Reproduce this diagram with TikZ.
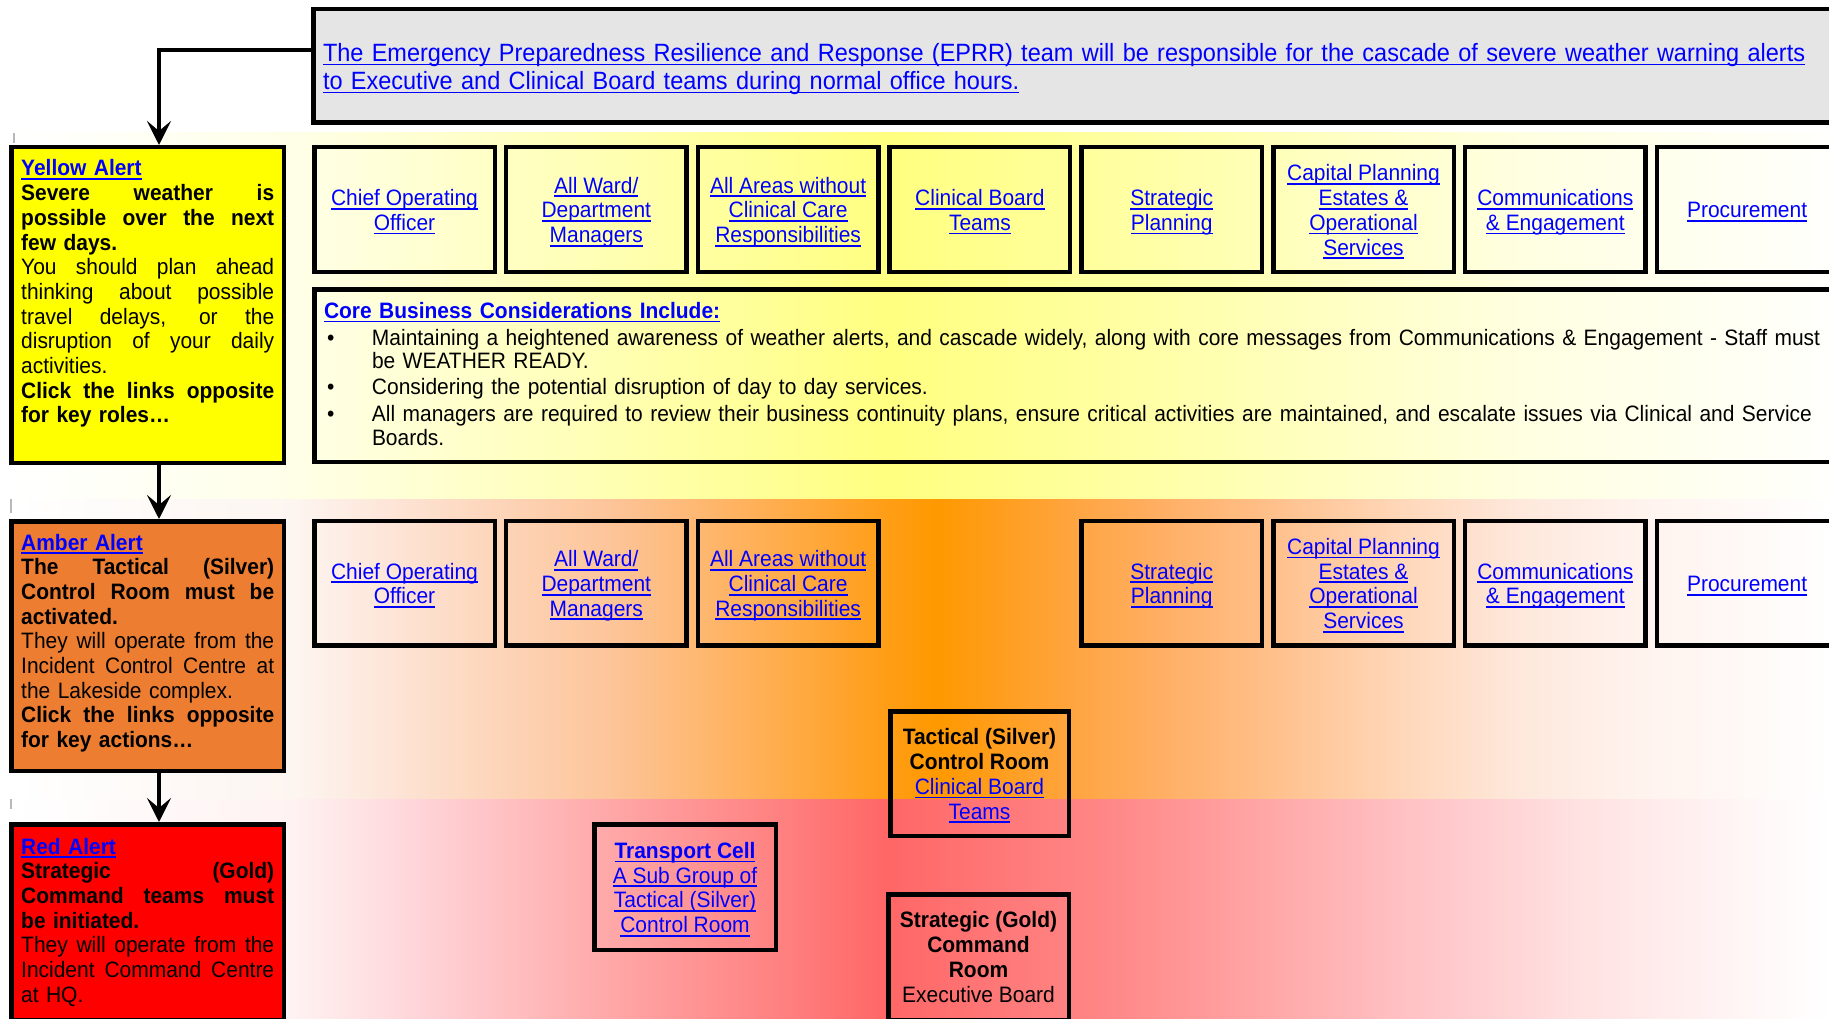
\documentclass[tikz,border=0pt]{standalone}
\usepackage{fontspec}
\setmainfont{Liberation Sans}[FakeStretch=0.94]
\usetikzlibrary{arrows.meta}
\definecolor{linkblue}{RGB}{0,0,255}
\definecolor{graybg}{RGB}{229,229,229}
\definecolor{yellowbox}{RGB}{255,255,0}
\definecolor{amberbox}{RGB}{237,125,49}
\definecolor{redbox}{RGB}{255,0,0}
% yellow band
\definecolor{yb0}{RGB}{255,255,255}
\definecolor{yb1}{RGB}{255,255,232}
\definecolor{yb2}{RGB}{255,255,180}
\definecolor{yb3}{RGB}{255,255,128}
\definecolor{yb4}{RGB}{255,255,170}
\definecolor{yb5}{RGB}{255,255,225}
\definecolor{yb6}{RGB}{255,255,252}
% amber band
\definecolor{ab0}{RGB}{255,255,255}
\definecolor{ab1}{RGB}{253,245,240}
\definecolor{ab2}{RGB}{253,228,214}
\definecolor{ab3}{RGB}{253,195,150}
\definecolor{ab4}{RGB}{255,175,85}
\definecolor{ab5}{RGB}{255,158,25}
\definecolor{ab6}{RGB}{255,153,0}
\definecolor{ab7}{RGB}{255,158,30}
\definecolor{ab8}{RGB}{255,165,65}
\definecolor{ab9}{RGB}{255,175,100}
\definecolor{ab10}{RGB}{255,190,135}
\definecolor{ab11}{RGB}{255,215,185}
\definecolor{ab12}{RGB}{254,232,220}
\definecolor{ab13}{RGB}{255,243,238}
\definecolor{ab14}{RGB}{255,250,248}
\definecolor{ab15}{RGB}{255,255,255}
% red band
\definecolor{rb0}{RGB}{255,255,255}
\definecolor{rb1}{RGB}{255,242,242}
\definecolor{rb2}{RGB}{255,212,216}
\definecolor{rb3}{RGB}{255,165,165}
\definecolor{rb4}{RGB}{255,120,120}
\definecolor{rb5}{RGB}{255,102,102}
\definecolor{rb6}{RGB}{255,120,120}
\definecolor{rb7}{RGB}{255,135,135}
\definecolor{rb8}{RGB}{255,170,170}
\definecolor{rb9}{RGB}{255,192,195}
\definecolor{rb10}{RGB}{255,225,225}
\definecolor{rb11}{RGB}{255,248,248}
\definecolor{rb12}{RGB}{255,255,255}
\newsavebox\myulbox
\newcommand\myul[1]{\leavevmode\sbox\myulbox{#1}\rlap{\rule[-4pt]{\wd\myulbox}{1.8pt}}\usebox\myulbox}
\newcommand\mylink[1]{\leavevmode{\color{linkblue}\myul{#1}}}
\newcommand\mylinkb[1]{\leavevmode{\bfseries\color{linkblue}\myul{#1}}}
\newcommand\jline[1]{\makebox[253pt][s]{\spaceskip=\fontdimen2\font plus 1fil\relax #1}}
\newcommand\bul{\hspace*{3pt}\makebox[45pt][l]{\textbullet}}
\newcommand\topst{\rule{0pt}{24pt}}
\newcommand\botst{\rule[-7pt]{0pt}{7pt}}
\begin{document}
\begin{tikzpicture}[x=1pt,y=-1pt,
  font=\fontsize{22.3}{24.7}\selectfont,
  box/.style={draw=black, line width=4.5pt, inner sep=0pt, align=center},
  rowbox/.style={box, minimum width=180.5pt, minimum height=124.5pt},
  sidebox/.style={box, minimum width=272.5pt},
  sidetext/.style={text width=253pt, align=left, inner sep=0pt, anchor=base west},
  arr/.style={line width=3.5pt, -{Stealth[length=24pt,width=24pt,inset=10pt]}}]
\useasboundingbox (0,0) rectangle (1829,1019);
\begin{scope}
\clip (0,0) rectangle (1829,1019);
% background bands
\foreach \xa/\ca/\xb/\cb in {13/yb0/290/yb1, 290/yb1/600/yb2, 600/yb2/890/yb3, 890/yb3/1170/yb4, 1170/yb4/1520/yb5, 1520/yb5/1829/yb6}
  \shade[left color=\ca, right color=\cb] (\xa,133) rectangle (\xb+1,499);
\foreach \xa/\ca/\xb/\cb in {13/ab0/296/ab1, 296/ab1/395/ab2, 395/ab2/620/ab3, 620/ab3/760/ab4, 760/ab4/880/ab5, 880/ab5/936/ab6, 936/ab6/1000/ab7, 1000/ab7/1075/ab8, 1075/ab8/1160/ab9, 1160/ab9/1260/ab10, 1260/ab10/1400/ab11, 1400/ab11/1521/ab12, 1521/ab12/1641/ab13, 1641/ab13/1761/ab14, 1761/ab14/1829/ab15}
  \shade[left color=\ca, right color=\cb] (\xa,499) rectangle (\xb+1,799);
\foreach \xa/\ca/\xb/\cb in {13/rb0/292/rb1, 292/rb1/420/rb2, 420/rb2/620/rb3, 620/rb3/816/rb4, 816/rb4/886/rb5, 886/rb5/1000/rb6, 1000/rb6/1108/rb7, 1108/rb7/1283/rb8, 1283/rb8/1400/rb9, 1400/rb9/1575/rb10, 1575/rb10/1760/rb11, 1760/rb11/1829/rb12}
  \shade[left color=\ca, right color=\cb] (\xa,799) rectangle (\xb+1,1019);
\draw[gray!55, line width=2pt] (14,133) -- (14,143);
\draw[gray!55, line width=2pt] (11,499) -- (11,513);
\draw[gray!55, line width=2pt] (11,799) -- (11,809);

% EPRR box
\node[box, fill=graybg, anchor=north west, minimum width=1540pt, minimum height=113.5pt,
      text width=1520.5pt, align=left, inner xsep=9.75pt,
      font=\fontsize{25}{28}\selectfont] (eprr) at (311,7)
  {\rule{0pt}{24pt}\mylink{The Emergency Preparedness Resilience and Response (EPRR) team will be responsible for the cascade of severe weather warning alerts}\\
   \mylink{to Executive and Clinical Board teams during normal office hours.}};

% side boxes
\node[sidebox, fill=yellowbox, minimum height=315.5pt] (yellow) at (147.5,305) {};
\node[sidetext] (yellowtxt) at (21,176) {%
  \mylinkb{Yellow Alert}\\
  \textbf{\jline{Severe weather is}}\\
  \textbf{\jline{possible over the next}}\\
  \textbf{few days.}\\
  \jline{You should plan ahead}\\
  \jline{thinking about possible}\\
  \jline{travel delays, or the}\\
  \jline{disruption of your daily}\\
  activities.\\
  \textbf{\jline{Click the links opposite}}\\
  \textbf{for key roles…}};

\node[sidebox, fill=amberbox, minimum height=249.5pt] (amber) at (147.5,646) {};
\node[sidetext] (ambertxt) at (21,550) {%
  \mylinkb{Amber Alert}\\
  \textbf{\jline{The Tactical (Silver)}}\\
  \textbf{\jline{Control Room must be}}\\
  \textbf{activated.}\\
  \jline{They will operate from the}\\
  \jline{Incident Control Centre at}\\
  the Lakeside complex.\\
  \textbf{\jline{Click the links opposite}}\\
  \textbf{for key actions…}};

\node[sidebox, fill=redbox, minimum height=195.5pt] (red) at (147.5,922) {};
\node[sidetext] (redtxt) at (21,854) {%
  \mylinkb{Red Alert}\\
  \textbf{\jline{Strategic (Gold)}}\\
  \textbf{\jline{Command teams must}}\\
  \textbf{be initiated.}\\
  \jline{They will operate from the}\\
  \jline{Incident Command Centre}\\
  at HQ.};

% yellow row
\node[rowbox] (y1) at (404.5,209.5) {\topst\mylink{Chief Operating}\\\mylink{Officer}\botst};
\node[rowbox] (y2) at (596.3,209.5) {\topst\mylink{All Ward/}\\\mylink{Department}\\\mylink{Managers}\botst};
\node[rowbox] (y3) at (788.1,209.5) {\topst\mylink{All Areas without}\\\mylink{Clinical Care}\\\mylink{Responsibilities}\botst};
\node[rowbox] (y4) at (979.9,209.5) {\topst\mylink{Clinical Board}\\\mylink{Teams}\botst};
\node[rowbox] (y5) at (1171.7,209.5) {\topst\mylink{Strategic}\\\mylink{Planning}\botst};
\node[rowbox] (y6) at (1363.5,209.5) {\topst\mylink{Capital Planning}\\\mylink{Estates \&}\\\mylink{Operational}\\\mylink{Services}\botst};
\node[rowbox] (y7) at (1555.3,209.5) {\topst\mylink{Communications}\\\mylink{\& Engagement}\botst};
\node[rowbox] (y8) at (1747.1,209.5) {\topst\mylink{Procurement}\botst};

% core considerations
\node[box, anchor=north west, minimum width=1540pt, minimum height=172.5pt,
      text width=1520.5pt, align=left, inner xsep=9.75pt] (core) at (312,287)
  {\mylinkb{Core Business Considerations Include:}\\[2pt]
   \bul\mbox{Maintaining a heightened awareness of weather alerts, and cascade widely, along with core messages from Communications \& Engagement - Staff must}\\[-1pt]
   \hspace*{48pt}\mbox{be WEATHER READY.}\\[1pt]
   \bul\mbox{Considering the potential disruption of day to day services.}\\[2pt]
   \bul\mbox{All managers are required to review their business continuity plans, ensure critical activities are maintained, and escalate issues via Clinical and Service}\\
   \hspace*{48pt}\mbox{Boards.}\rule[-3pt]{0pt}{3pt}};

% amber row
\node[rowbox] (a1) at (404.5,583) {\topst\mylink{Chief Operating}\\\mylink{Officer}\botst};
\node[rowbox] (a2) at (596.3,583) {\topst\mylink{All Ward/}\\\mylink{Department}\\\mylink{Managers}\botst};
\node[rowbox] (a3) at (788.1,583) {\topst\mylink{All Areas without}\\\mylink{Clinical Care}\\\mylink{Responsibilities}\botst};
\node[rowbox] (a5) at (1171.7,583) {\topst\mylink{Strategic}\\\mylink{Planning}\botst};
\node[rowbox] (a6) at (1363.5,583) {\topst\mylink{Capital Planning}\\\mylink{Estates \&}\\\mylink{Operational}\\\mylink{Services}\botst};
\node[rowbox] (a7) at (1555.3,583) {\topst\mylink{Communications}\\\mylink{\& Engagement}\botst};
\node[rowbox] (a8) at (1747.1,583) {\topst\mylink{Procurement}\botst};

% command boxes
\node[box, minimum width=178.5pt, minimum height=124.5pt] (silver) at (979.5,773.5)
  {\topst\textbf{Tactical (Silver)}\\\textbf{Control Room}\\\mylink{Clinical Board}\\\mylink{Teams}\botst};
\node[box, minimum width=181.5pt, minimum height=125.5pt] (transport) at (685,887)
  {\topst\mylinkb{Transport Cell}\\\mylink{A Sub Group of}\\\mylink{Tactical (Silver)}\\\mylink{Control Room}\botst};
\node[box, minimum width=180.5pt, minimum height=125.5pt] (gold) at (978.5,957)
  {\textbf{Strategic (Gold)}\\\textbf{Command}\\\textbf{Room}\\Executive Board};

% connectors
\coordinate (eprrL) at (eprr.north west |- 0,50);
\draw[arr] (eprrL) -| (yellow.north -| 159,0);
\draw[arr] (yellow.south -| 159,0) -- (amber.north -| 159,0);
\draw[arr] (amber.south -| 159,0) -- (red.north -| 159,0);
\end{scope}
\end{tikzpicture}
\end{document}
